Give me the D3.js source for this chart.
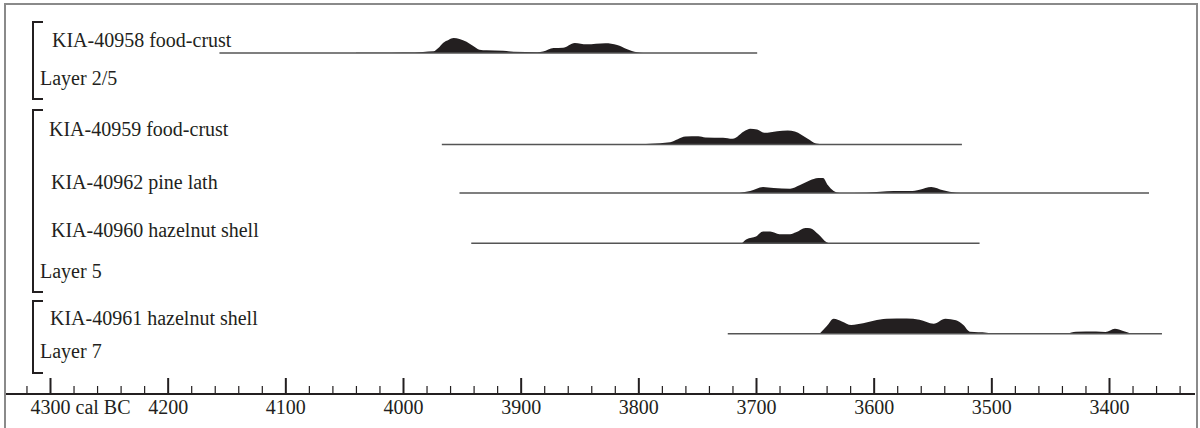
<!DOCTYPE html>
<html>
<head>
<meta charset="utf-8">
<script src="https://cdn.jsdelivr.net/npm/d3@7"></script>
<style>
  html, body { margin: 0; padding: 0; background: #fff; }
  svg { display: block; }
  text { font-family: "Liberation Serif", "Times New Roman", serif; fill: #231f20; }
</style>
</head>
<body>
<div id="chart"></div>
<script>
//Sample labels, top to bottom
var samples = [
    "KIA-40958 food-crust",
    "KIA-40959 food-crust",
    "KIA-40962 pine lath",
    "KIA-40960 hazelnut shell",
    "KIA-40961 hazelnut shell"
];

//Layer brackets and the samples they group (first, last index)
var layerNames = ["Layer 2/5", "Layer 5", "Layer 7"];
var layerSpan = [[0, 0], [1, 3], [4, 4]];

//Extent of each calibrated range (cal BC)
var rangeStart = [4156, 3967, 3952, 3942, 3724];
var rangeEnd = [3699, 3525, 3366, 3510, 3355];

//Probability distributions: years (cal BC) and relative probability
var years58 = [4040, 4010, 3990, 3983, 3974, 3970, 3966, 3961, 3957, 3952, 3946, 3940, 3935, 3929, 3915, 3906, 3886, 3881, 3872, 3864, 3854, 3844, 3828, 3818, 3810, 3801, 3796];
var prob58 = [0.01, 0.02, 0.03, 0.07, 0.11, 0.33, 0.67, 0.89, 1.0, 0.93, 0.75, 0.45, 0.22, 0.18, 0.15, 0.08, 0.05, 0.1, 0.33, 0.35, 0.67, 0.58, 0.65, 0.53, 0.27, 0.05, 0];

var years59 = [3804, 3790, 3773, 3760, 3749, 3743, 3728, 3720, 3709, 3705, 3699, 3693, 3682, 3673, 3667, 3656, 3649, 3640];
var prob59 = [0, 0.05, 0.15, 0.53, 0.55, 0.47, 0.45, 0.38, 0.93, 1.05, 1.0, 0.78, 0.89, 0.93, 0.87, 0.38, 0.07, 0];

var years62 = [3714, 3705, 3694, 3685, 3671, 3663, 3654, 3651, 3647, 3643, 3639, 3634, 3629, 3606, 3583, 3569, 3561, 3551, 3541, 3530, 3522];
var prob62 = [0, 0.13, 0.4, 0.33, 0.29, 0.51, 0.85, 0.93, 1.0, 1.0, 0.53, 0.13, 0, 0.02, 0.13, 0.13, 0.22, 0.4, 0.18, 0.02, 0];

var years60 = [3712, 3708, 3700, 3694, 3688, 3680, 3671, 3666, 3658, 3654, 3647, 3640, 3637];
var prob60 = [0, 0.27, 0.45, 0.78, 0.78, 0.6, 0.6, 0.73, 1.02, 1.0, 0.6, 0.07, 0];

var years61 = [3646, 3640, 3634, 3627, 3619, 3609, 3600, 3589, 3572, 3561, 3549, 3539, 3530, 3524, 3518, 3504, 3498, 3436, 3428, 3411, 3403, 3395, 3388, 3381];
var prob61 = [0, 0.49, 1.0, 0.82, 0.58, 0.69, 0.87, 1.0, 1.02, 0.93, 0.67, 1.0, 0.89, 0.6, 0.13, 0.07, 0, 0.02, 0.13, 0.15, 0.11, 0.33, 0.18, 0];

var distYears = [years58, years59, years62, years60, years61];
var distProb = [prob58, prob59, prob62, prob60, prob61];

//Axis ticks
var majorTicks = [4300, 4200, 4100, 4000, 3900, 3800, 3700, 3600, 3500, 3400];
var minorStep = 20;
var firstTickLabel = "4300 cal BC";

//Layout configuration
var configuration = {
    width: 1200,
    height: 428,
    rowY: [53, 144.5, 193, 243.3, 333.7],
    labelX: [52, 49, 51, 51, 50],
    labelDy: [-6, -8.5, -4.5, -6, -8.7],
    layerX: 40,
    layerY: [85, 278, 358],
    bracketX: 33,
    bracketTick: 10,
    bracketY: [[22, 99], [110, 292], [301, 373]],
    axisY: 394,
    xRange: [50, 1109],
    peak: 15,
    ink: "#231f20"
};

var svg = d3.select("#chart")
    .append("svg")
        .attr("width", configuration.width)
        .attr("height", configuration.height);

//Frame
svg.append("rect")
    .attr("x", 5)
    .attr("y", 4)
    .attr("width", 1192)
    .attr("height", 440)
    .attr("fill", "none")
    .attr("stroke", "#8a8a8a")
    .attr("stroke-width", 2);

//Scales
var x = d3.scaleLinear()
    .domain([majorTicks[0], majorTicks[majorTicks.length - 1]])
    .range(configuration.xRange);

var y = d3.scaleLinear()
    .domain([0, 1])
    .range([0, configuration.peak]);

//Distributions
samples.forEach(function(name, i) {
    var base = configuration.rowY[i];
    var points = distYears[i].map(function(yr, j) { return [yr, distProb[i][j]]; });

    var area = d3.area()
        .x(function(d) { return x(d[0]); })
        .y0(base)
        .y1(function(d) { return base - y(d[1]); })
        .curve(d3.curveMonotoneX);

    svg.append("path")
        .datum(points)
        .attr("d", area)
        .attr("fill", configuration.ink);

    //Range line
    svg.append("line")
        .attr("x1", x(rangeStart[i]))
        .attr("x2", x(rangeEnd[i]))
        .attr("y1", base)
        .attr("y2", base)
        .attr("stroke", "#555")
        .attr("stroke-width", 1.4);

    //Sample label
    svg.append("text")
        .attr("x", configuration.labelX[i])
        .attr("y", base + configuration.labelDy[i])
        .attr("font-size", 20)
        .text(name);
});

//Layer brackets
layerNames.forEach(function(name, i) {
    var bx = configuration.bracketX;
    var top = configuration.bracketY[i][0];
    var bottom = configuration.bracketY[i][1];
    var t = configuration.bracketTick;

    svg.append("path")
        .attr("d", "M" + (bx + t) + "," + top + "H" + bx + "V" + bottom + "H" + (bx + t))
        .attr("fill", "none")
        .attr("stroke", configuration.ink)
        .attr("stroke-width", 2);

    svg.append("text")
        .attr("x", configuration.layerX)
        .attr("y", configuration.layerY[i])
        .attr("font-size", 20)
        .text(name);
});

//Minor ticks
var minorTicks = d3.range(majorTicks[0] + minorStep, 3340 - 1, -minorStep)
    .filter(function(v) { return v % 100 !== 0; });

svg.append("g")
    .attr("transform", "translate(0," + configuration.axisY + ")")
    .call(d3.axisBottom(x).tickValues(minorTicks).tickSize(-8).tickFormat(""))
    .call(function(g) { g.select(".domain").remove(); })
    .call(function(g) { g.selectAll("line").attr("stroke", configuration.ink).attr("stroke-width", 1.2); });

//Major ticks and labels
var axis = svg.append("g")
    .attr("transform", "translate(0," + configuration.axisY + ")")
    .call(d3.axisBottom(x).tickValues(majorTicks).tickSizeInner(-16).tickSizeOuter(0).tickPadding(6)
        .tickFormat(function(d, i) { return i === 0 ? firstTickLabel : d; }));

axis.select(".domain").remove();
axis.selectAll("line").attr("stroke", configuration.ink).attr("stroke-width", 2);
axis.selectAll("text")
    .attr("font-size", 20)
    .attr("font-family", "Liberation Serif, Times New Roman, serif")
    .attr("fill", configuration.ink);
axis.selectAll("text")
    .filter(function(d) { return d === majorTicks[0]; })
    .attr("text-anchor", "start")
    .attr("x", -20);

//Axis line
svg.append("line")
    .attr("x1", 6)
    .attr("x2", 1195)
    .attr("y1", configuration.axisY)
    .attr("y2", configuration.axisY)
    .attr("stroke", configuration.ink)
    .attr("stroke-width", 2);
</script>
</body>
</html>
